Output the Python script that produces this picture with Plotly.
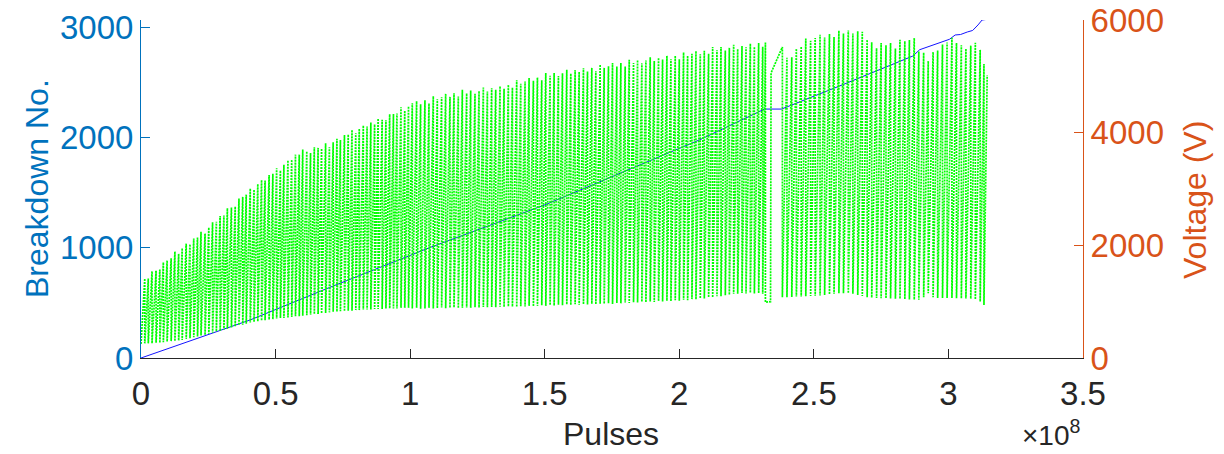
import plotly.graph_objects as go

# ---------------- data ----------------
# Breakdown number (left axis) vs pulses (x in millions of pulses)
bd_pulses_M = [0, 20, 40.5, 70, 107, 150, 207.6, 231.7, 238, 259.6, 286.8, 289.3,
               300.4, 302.5, 304.5, 307, 309, 311, 312.5, 314.4]
bd_count = [0, 170, 345, 640, 1000, 1390, 1982, 2261, 2261, 2471, 2743, 2800,
            2895, 2934, 2938, 2961, 2975, 3025, 3070, 3076]

# Voltage conditioning cycles (right axis): start of each cycle (millions of pulses),
# voltage at the start of the cycle (after the breakdown drop) and peak voltage reached.
cyc_start_M = [
    0, 1.4, 2.7, 4.1, 5.6, 7.0, 8.3, 9.7, 11.2, 12.6,
    14.0, 15.3, 16.8, 18.2, 19.6, 21.0, 22.3, 23.8, 25.2, 26.6,
    28.0, 29.4, 30.8, 32.1, 33.6, 35.0, 36.4, 37.8, 39.1, 40.6,
    42.0, 43.4, 44.8, 46.1, 47.6, 49.0, 50.4, 51.8, 53.1, 54.6,
    56.0, 57.4, 58.8, 60.1, 61.6, 63.0, 64.4, 65.8, 67.1, 68.6,
    70.0, 71.4, 72.8, 74.1, 75.6, 77.0, 78.4, 79.8, 81.1, 82.6,
    84.0, 85.4, 86.8, 88.1, 89.6, 91.0, 92.4, 93.8, 95.1, 96.6,
    98.0, 99.4,
    100.8, 102.4, 103.9, 105.5, 107.0, 108.6, 110.1, 111.7, 113.2, 114.8,
    116.3, 117.9, 119.4, 121.0, 122.5, 124.1, 125.6, 127.2, 128.7, 130.3,
    131.8, 133.4, 134.9, 136.5, 138.0, 139.6, 141.1, 142.7, 144.2, 145.8,
    147.3, 148.9, 150.4, 152.0, 153.5, 155.1, 156.6, 158.2, 159.7, 161.3,
    162.8, 164.4, 165.9, 167.5, 169.0, 170.6, 172.1, 173.7, 175.2, 176.8,
    178.3, 179.9, 181.4, 183.0, 184.5, 186.1, 187.6, 189.2, 190.7, 192.3,
    193.8, 195.4, 196.9, 198.5, 200.0, 201.6, 203.1, 204.7, 206.2, 207.8,
    209.3, 210.9, 212.4, 214.0, 215.5, 217.1, 218.6, 220.2, 221.7, 223.3,
    224.8, 226.4, 227.9, 229.5, 231.0,
    232.0, 233.9, 234.1,
    238.3, 240.0, 241.8, 243.5, 245.3, 247.0, 248.8, 250.5, 252.3, 254.0,
    255.8, 257.5, 259.3, 261.0, 262.8, 264.5, 266.3, 268.0, 269.8, 271.5,
    273.3, 275.0, 276.8, 278.5, 280.3, 282.0, 283.8, 285.5, 287.3, 289.0,
    290.8, 292.5, 294.3, 296.0, 297.8, 299.5, 301.3, 303.0, 304.8, 306.5,
    308.3, 310.0, 311.8, 313.2,
    314.4,
]

cyc_base_V = [
    250, 260, 260, 260, 270, 270, 280, 290, 300, 300,
    310, 320, 340, 350, 370, 380, 400, 410, 430, 450,
    470, 480, 500, 520, 540, 560, 580, 590, 610, 630,
    640, 650, 660, 670, 680, 690, 700, 710, 710, 720,
    730, 740, 740, 750, 760, 770, 780, 780, 790, 800,
    810, 820, 820, 830, 830, 840, 840, 850, 850, 860,
    860, 860, 870, 870, 870, 880, 880, 880, 880, 890,
    890, 890,
    880, 890, 875, 880, 890, 880, 885, 895, 885, 890,
    895, 885, 890, 895, 890, 900, 895, 905, 900, 905,
    900, 910, 905, 915, 910, 905, 920, 915, 925, 915,
    925, 935, 925, 940, 930, 945, 935, 950, 940, 955,
    945, 955, 950, 960, 955, 965, 960, 970, 960, 975,
    970, 985, 975, 990, 985, 995, 990, 1005, 995, 1010,
    1005, 1015, 1010, 1025, 1015, 1035, 1025, 1045, 1040, 1055,
    1055, 1075, 1075, 1095, 1095, 1115, 1120, 1140, 1140, 1155,
    1145, 1155, 1145, 1150, 1140,
    990, 1000, 5060,
    1080, 1080, 1085, 1090, 1090, 1095, 1100, 1105, 1110, 1120,
    1130, 1140, 1150, 1150, 1150, 1140, 1120, 1100, 1080, 1070,
    1065, 1060, 1060, 1055, 1050, 1050, 1045, 1040, 1035, 1035,
    1080, 1150, 1080, 1065, 1065, 1065, 1065, 1060, 1060, 1055,
    1050, 1040, 1000, 940,
]

cyc_peak_V = [
    1410, 1410, 1540, 1550, 1570, 1700, 1730, 1770, 1890, 1850,
    1950, 2030, 2020, 2120, 2140, 2240, 2210, 2320, 2410, 2420,
    2520, 2530, 2660, 2670, 2690, 2830, 2860, 2900, 3010, 2990,
    3090, 3160, 3150, 3250, 3270, 3370, 3330, 3430, 3510, 3520,
    3610, 3610, 3700, 3670, 3640, 3740, 3730, 3720, 3810, 3740,
    3830, 3890, 3870, 3960, 3970, 4050, 3990, 4070, 4130, 4110,
    4180, 4150, 4250, 4230, 4220, 4330, 4330, 4340, 4450, 4390,
    4470, 4520,
    4560, 4505, 4575, 4520, 4650, 4595, 4630, 4690, 4635, 4700,
    4640, 4760, 4700, 4750, 4690, 4740, 4800, 4730, 4790, 4760,
    4825, 4780, 4850, 4800, 4930, 4870, 4910, 4970, 4920, 4980,
    4930, 5060, 5010, 5060, 5005, 5055, 5115, 5050, 5110, 5080,
    5145, 5085, 5150, 5090, 5210, 5150, 5180, 5235, 5175, 5235,
    5175, 5295, 5235, 5290, 5230, 5280, 5340, 5270, 5330, 5300,
    5365, 5305, 5365, 5305, 5425, 5365, 5400, 5450, 5390, 5455,
    5400, 5520, 5465, 5520, 5460, 5505, 5560, 5485, 5540, 5515,
    5580, 5525, 5590, 5525, 5600,
    1000, 5060, 5520,
    5330, 5340, 5490, 5530, 5670, 5630, 5680, 5740, 5690, 5750,
    5700, 5810, 5760, 5815, 5760, 5800, 5790, 5650, 5605, 5500,
    5590, 5550, 5590, 5495, 5650, 5625, 5645, 5680, 5440, 5420,
    5270, 5430, 5460, 5565, 5600, 5685, 5590, 5550, 5490, 5545,
    5595, 5470, 5220, 5020,
]

x_tick_vals_1e8 = [0, 0.5, 1, 1.5, 2, 2.5, 3, 3.5]
x_tick_text = ["0", "0.5", "1", "1.5", "2", "2.5", "3", "3.5"]
left_ticks = [0, 1000, 2000, 3000]
right_ticks = [0, 2000, 4000, 6000]

# ---------------- build traces ----------------
volt_x, volt_y = [], []
for i in range(len(cyc_base_V)):
    volt_x += [cyc_start_M[i] * 1e6, cyc_start_M[i + 1] * 1e6]
    volt_y += [cyc_base_V[i], cyc_peak_V[i]]

FONT = "Liberation Sans, Arial, Helvetica, sans-serif"
BLUE_AX = "#0072BD"
ORANGE_AX = "#D95319"
DARK = "#262626"
TICK_SIZE = 33
LABEL_SIZE = 32

fig = go.Figure()
fig.add_trace(go.Scatter(
    x=[v * 1e6 for v in bd_pulses_M], y=bd_count, mode="lines",
    line=dict(color="#1414ff", width=1), yaxis="y", showlegend=False,
    hoverinfo="skip"))
fig.add_trace(go.Scatter(
    x=volt_x, y=volt_y, mode="lines",
    line=dict(color="#00ff00", width=1.7, dash="2px,1px"), yaxis="y2",
    showlegend=False, hoverinfo="skip"))

fig.update_layout(
    width=1224, height=454,
    margin=dict(l=141, r=141, t=20, b=96, pad=0, autoexpand=False),
    paper_bgcolor="white", plot_bgcolor="white",
    font=dict(family=FONT, size=TICK_SIZE, color=DARK),
    xaxis=dict(
        range=[0, 3.5e8], tickvals=[v * 1e8 for v in x_tick_vals_1e8],
        ticktext=x_tick_text, ticks="inside", ticklen=9, tickwidth=1,
        tickcolor=DARK, showline=True, linecolor=DARK, linewidth=1,
        showgrid=False, zeroline=False, automargin=False,
        tickfont=dict(size=TICK_SIZE, color=DARK, family=FONT),
        ticklabelstandoff=6,
    ),
    yaxis=dict(
        range=[0, 3070], tickvals=left_ticks, ticks="inside", ticklen=9,
        tickwidth=1, tickcolor=BLUE_AX, showline=True, linecolor=BLUE_AX,
        linewidth=1, showgrid=False, zeroline=False, automargin=False,
        tickfont=dict(size=TICK_SIZE, color=BLUE_AX, family=FONT),
    ),
    yaxis2=dict(
        range=[0, 6000], tickvals=right_ticks, overlaying="y", side="right",
        ticks="inside", ticklen=9, tickwidth=1, tickcolor=ORANGE_AX,
        showline=True, linecolor=ORANGE_AX, linewidth=1, showgrid=False,
        zeroline=False, automargin=False,
        tickfont=dict(size=TICK_SIZE, color=ORANGE_AX, family=FONT),
    ),
    annotations=[
        dict(text="Breakdown No.", x=-0.1104, y=0.5, xref="paper", yref="paper",
             textangle=-90, showarrow=False, xanchor="center", yanchor="middle",
             font=dict(size=LABEL_SIZE, color=BLUE_AX, family=FONT)),
        dict(text="Voltage (V)", x=1.1189, y=0.4675, xref="paper", yref="paper",
             textangle=-90, showarrow=False, xanchor="center", yanchor="middle",
             font=dict(size=LABEL_SIZE, color=ORANGE_AX, family=FONT)),
        dict(text="Pulses", x=0.499, y=-0.2249, xref="paper", yref="paper",
             showarrow=False, xanchor="center", yanchor="middle",
             font=dict(size=LABEL_SIZE, color=DARK, family=FONT)),
        dict(text="×10<sup>8</sup>", x=0.999, y=-0.279, xref="paper", yref="paper",
             showarrow=False, xanchor="right", yanchor="bottom", borderpad=0,
             font=dict(size=28, color=DARK, family=FONT)),
    ],
)

fig.write_html("out.html")
